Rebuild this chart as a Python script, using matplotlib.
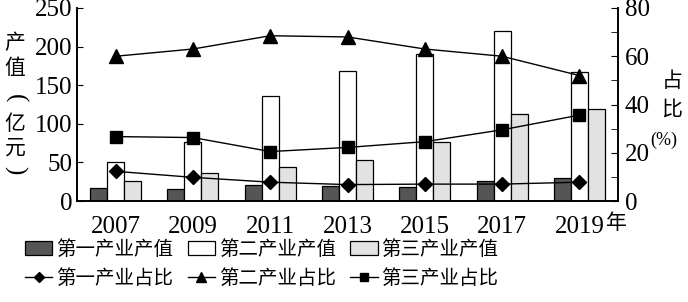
"""Industry output values and shares, 2007-2019."""
import matplotlib
matplotlib.use("Agg")
import matplotlib.pyplot as plt
import numpy as np
from matplotlib.ticker import MultipleLocator

plt.rcParams["font.family"] = ["Liberation Serif", "Noto Sans CJK SC", "DejaVu Sans"]

years = ["2007", "2009", "2011", "2013", "2015", "2017", "2019"]
primary_value = [17, 16, 21, 20, 18, 26, 30]
secondary_value = [51, 76, 136, 169, 191, 220, 167]
tertiary_value = [26, 36, 44, 53, 76, 113, 119]
primary_share = [12.3, 9.8, 7.8, 6.8, 7.0, 7.0, 7.8]
secondary_share = [60, 63, 68.5, 68, 63, 60, 52]
tertiary_share = [26.7, 26.3, 20.5, 22.2, 24.6, 29.5, 35.6]

CJK = ["Noto Sans CJK SC", "DejaVu Sans"]
W, H = 688, 302

fig = plt.figure(figsize=(W / 100, H / 100), dpi=100)
ax = fig.add_axes([77 / W, 1 - 201 / H, (618 - 77) / W, (201 - 8) / H])
ax2 = ax.twinx()

x = np.arange(len(years))
w = 0.22
b1 = ax.bar(x - w, primary_value, w, color="#555555", edgecolor="black", lw=0.9)
b2 = ax.bar(x, secondary_value, w, color="white", edgecolor="black", lw=0.9)
b3 = ax.bar(x + w, tertiary_value, w, color="#e2e2e2", edgecolor="black", lw=0.9)

l1, = ax2.plot(x, primary_share, "-D", color="black", ms=7, lw=1)
l2, = ax2.plot(x, secondary_share, "-^", color="black", ms=10, lw=1)
l3, = ax2.plot(x, tertiary_share, "-s", color="black", ms=8, lw=1)

ax.set_xlim(-0.5, 6.5)
ax.set_ylim(0, 250)
ax2.set_ylim(0, 80)
ax.set_xticks(x, years)
ax.yaxis.set_major_locator(MultipleLocator(50))
ax2.yaxis.set_major_locator(MultipleLocator(20))
ax2.yaxis.set_minor_locator(MultipleLocator(10))

for a in (ax, ax2):
    a.spines["top"].set_visible(False)
    for s in a.spines.values():
        s.set_linewidth(1.2)
ax.tick_params(axis="x", length=0, pad=11, labelsize=18)
ax.tick_params(axis="y", direction="in", length=4, pad=3, labelsize=18)
ax2.tick_params(axis="y", which="both", direction="in", length=5, pad=5, labelsize=18)

# vertical axis titles, one character per line; parentheses turned sideways
for ch, yp in zip("产值(亿元)", [43, 68, 98, 124, 148, 170]):
    if ch in "()":
        fig.text(15 / W, 1 - yp / H, ch, fontsize=18, ha="center", va="center",
                 rotation=-90)
    else:
        fig.text(15 / W, 1 - yp / H, ch, family=CJK, fontsize=15, ha="center",
                 va="center")
for ch, yp in zip("占比", [81, 109]):
    fig.text(672 / W, 1 - yp / H, ch, family=CJK, fontsize=15, ha="center", va="center")
fig.text(664 / W, 1 - 140 / H, "(%)", fontsize=13, ha="center", va="center")
fig.text(606 / W, 1 - 223 / H, "年", family=CJK, fontsize=15, ha="left", va="center")

handles = [b1, l1, b2, l2, b3, l3]
labels = ["第一产业产值", "第一产业占比", "第二产业产值", "第二产业占比",
          "第三产业产值", "第三产业占比"]
fig.legend(handles, labels, loc="upper left", bbox_to_anchor=(25 / W, 1 - 239 / H),
           ncol=3, frameon=False, prop={"family": CJK, "size": 14}, handlelength=1.4,
           handletextpad=0.2, columnspacing=0.75, labelspacing=0.4, borderpad=0,
           borderaxespad=0, markerscale=0.75)

fig.savefig("out.png", dpi=100)
